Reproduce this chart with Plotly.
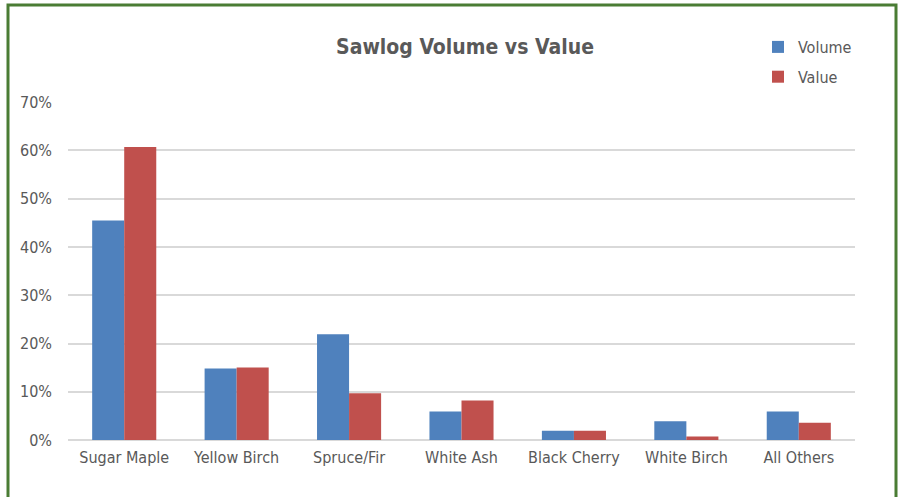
import plotly.graph_objects as go

categories = ["Sugar Maple", "Yellow Birch", "Spruce/Fir", "White Ash",
              "Black Cherry", "White Birch", "All Others"]
volume = [0.455, 0.148, 0.219, 0.059, 0.019, 0.039, 0.059]
value = [0.607, 0.150, 0.097, 0.082, 0.019, 0.007, 0.036]
y_ticks = [0, 0.1, 0.2, 0.3, 0.4, 0.5, 0.6, 0.7]

FONT = "DejaVu Sans Condensed, Liberation Sans Narrow, Arial Narrow, sans-serif"
GREY = "#595959"

fig = go.Figure()
fig.add_trace(go.Bar(x=categories, y=volume, name="Volume",
                     marker=dict(color="#4f81bd", line=dict(width=0)),
                     legendgroup="a"))
fig.add_trace(go.Bar(x=categories, y=value, name="Value",
                     marker=dict(color="#c0504d", line=dict(width=0)),
                     legendgroup="b"))

L, R, T, B = 68, 45, 102, 57
W, H = 900, 497
pw, ph = W - L - R, H - T - B

def px_x(p):
    return (p - L) / pw

def px_y(p):
    return (H - B - p) / ph

fig.update_layout(
    width=W, height=H,
    margin=dict(l=L, r=R, t=T, b=B, pad=0),
    paper_bgcolor="white", plot_bgcolor="white",
    barmode="group", bargap=0.43, bargroupgap=0,
    font=dict(family=FONT, color=GREY, size=16),
    title=dict(text="<b>Sawlog Volume vs Value</b>", x=465 / W, xanchor="center",
               y=1 - 47 / H, yanchor="middle",
               font=dict(family=FONT, size=21, color=GREY)),
    legend=dict(x=px_x(758), y=px_y(30), xanchor="left", yanchor="top",
                font=dict(family=FONT, size=16, color=GREY),
                bgcolor="rgba(0,0,0,0)", tracegroupgap=6,
                itemwidth=30),
    xaxis=dict(showgrid=False, showline=False, ticks="",
               tickfont=dict(size=16, color=GREY), ticklabelstandoff=6),
    yaxis=dict(range=[0, 0.7005], tickvals=y_ticks, tickformat=".0%",
               showgrid=True, gridcolor="#d9d9d9", gridwidth=2,
               zeroline=True, zerolinecolor="#d9d9d9", zerolinewidth=2,
               showline=False, ticks="", ticklabelstandoff=15,
               tickfont=dict(size=16, color=GREY)),
    shapes=[dict(type="rect", xref="paper", yref="paper",
                 x0=px_x(8), x1=px_x(896), y0=px_y(520), y1=px_y(5),
                 line=dict(color="#4a7c34", width=3), fillcolor="rgba(0,0,0,0)",
                 layer="above")],
)

fig.write_html("out.html", config={"displayModeBar": False},
               post_script="document.body.style.margin='0';document.body.style.overflow='hidden';")
